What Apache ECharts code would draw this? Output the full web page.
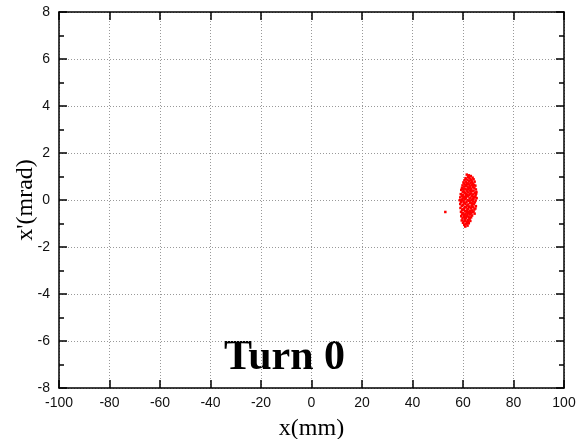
<!DOCTYPE html>
<html><head><meta charset="utf-8">
<script src="https://cdn.jsdelivr.net/npm/echarts@6/dist/echarts.min.js"></script>
<style>html,body{margin:0;padding:0;background:#fff}#c{width:577px;height:439px}</style>
</head><body><div id="c"></div>
<script>
var xTicks = [-100,-80,-60,-40,-20,0,20,40,60,80,100];
var yTicks = [-8,-6,-4,-2,0,2,4,6,8];
var xTitle = 'x(mm)';
var yTitle = "x'(mrad)";
var label = 'Turn 0';
// particle coordinates [x (mm), x' (mrad)]
var particles = [
[61.5,1.08],[62.3,1.05],[63.1,1.02],[62.0,0.98],[63.8,0.95],[61.0,0.93],[62.7,0.91],[64.2,0.88],[61.8,0.86],[60.6,0.84],[63.4,0.83],[62.4,0.80],[64.6,0.78],[61.3,0.77],[60.2,0.75],[63.0,0.73],[62.0,0.71],[64.0,0.70],[61.6,0.68],[60.8,0.66],[63.6,0.65],[62.6,0.63],[59.8,0.62],[64.9,0.61],[61.1,0.60],
[62.9,0.58],[60.4,0.57],[63.9,0.55],[61.9,0.54],[59.6,0.52],[64.5,0.51],[62.3,0.50],[60.9,0.48],[63.3,0.47],[65.1,0.45],[61.4,0.44],[59.3,0.43],[62.7,0.41],[64.2,0.40],[60.2,0.39],[63.7,0.37],[61.7,0.36],[65.3,0.34],[59.9,0.33],[62.1,0.32],[64.7,0.30],[60.7,0.29],[63.1,0.28],[61.2,0.26],[59.1,0.25],[64.0,0.24],[62.5,0.22],[60.0,0.21],[65.0,0.20],[61.6,0.19],
[63.5,0.18],[59.5,0.17],[62.0,0.15],[64.4,0.14],[60.5,0.13],[58.9,0.11],[63.0,0.10],[61.1,0.09],[65.4,0.08],[62.6,0.06],[59.8,0.05],[64.1,0.04],[60.9,0.03],[63.6,0.01],[61.8,0.00],[58.7,-0.01],[65.0,-0.02],[62.3,-0.04],[60.2,-0.05],[63.9,-0.06],[61.4,-0.08],[59.3,-0.09],[64.7,-0.10],[62.8,-0.12],[60.6,-0.13],[63.3,-0.14],[61.0,-0.16],[58.9,-0.17],[64.3,-0.18],[62.1,-0.19],
[60.0,-0.21],[63.7,-0.22],[61.6,-0.24],[59.5,-0.25],[65.1,-0.26],[62.5,-0.28],[60.7,-0.29],[64.0,-0.31],[61.2,-0.32],[59.0,-0.34],[63.1,-0.35],[62.0,-0.37],[60.3,-0.38],[64.5,-0.40],[61.8,-0.41],[59.7,-0.43],[63.5,-0.44],[62.7,-0.46],[60.9,-0.47],[64.2,-0.49],[59.2,-0.50],[61.4,-0.52],[63.0,-0.53],[60.1,-0.55],[62.3,-0.56],[64.6,-0.58],[61.0,-0.59],
[59.6,-0.61],[62.8,-0.62],[60.6,-0.64],[63.6,-0.66],[61.7,-0.67],[59.3,-0.69],[62.2,-0.71],[60.3,-0.73],[63.2,-0.74],[61.2,-0.76],[59.8,-0.78],[62.6,-0.80],[60.8,-0.82],[61.9,-0.85],[59.5,-0.87],[62.9,-0.89],[60.4,-0.91],[61.5,-0.94],[60.0,-0.97],[62.3,-0.99],[61.0,-1.02],[60.5,-1.06],[61.8,-1.09],[60.9,-1.13],
[62.4,0.96],[61.2,0.89],[63.5,0.76],[62.2,0.67],[60.3,0.70],[64.4,0.64],[61.9,0.45],[63.0,0.38],[60.6,0.35],[62.9,0.27],[64.8,0.12],[61.5,0.22],[60.1,0.07],[62.9,-0.03],[61.1,0.16],[63.8,-0.15],[60.4,-0.11],[62.4,-0.30],[64.9,-0.36],[61.5,-0.45],[63.8,-0.51],[60.5,-0.63],[62.0,-0.52],[61.3,-0.70],[62.0,-0.92],[63.3,-0.57],[59.9,-0.40],[59.6,0.00],[65.2,0.27],[63.2,0.86],[62.8,0.53],[61.4,0.61],[60.0,0.48],[64.1,0.09],[59.2,-0.07],[63.4,-0.26],[61.8,-0.60],[60.9,-0.88],[61.6,-1.0],[62.5,-0.75],
[53.0,-0.51]
];

var chart = echarts.init(document.getElementById('c'), null, {renderer:'canvas'});
var axisLine = {show:true, onZero:false, lineStyle:{color:'#000', width:1.5}};
var split = {show:true, lineStyle:{color:'#999', type:[1,2], width:1}};
var lblFont = {fontFamily:'Liberation Sans, Arial, sans-serif', fontSize:14, color:'#111'};
chart.setOption({
  animation:false,
  grid:{left:59, right:13, top:12, bottom:51, containLabel:false, outerBoundsMode:'none'},
  xAxis:[{
    type:'value', min:xTicks[0], max:xTicks[xTicks.length-1], interval:20, position:'bottom',
    name:xTitle, nameLocation:'middle', nameGap:29, nameMoveOverlap:false,
    nameTextStyle:{fontFamily:'Liberation Serif, Times New Roman, serif', fontSize:24, color:'#000'},
    axisLine:axisLine, axisTick:{show:true, inside:true, length:8, lineStyle:{color:'#000', width:1.5}},
    axisLabel:Object.assign({margin:8}, lblFont), splitLine:split
  },{
    type:'value', min:xTicks[0], max:xTicks[xTicks.length-1], interval:20, position:'top',
    axisLine:axisLine, axisTick:{show:true, inside:true, length:8, lineStyle:{color:'#000', width:1.5}},
    axisLabel:{show:false}, splitLine:{show:false}
  }],
  yAxis:[{
    type:'value', min:yTicks[0], max:yTicks[yTicks.length-1], interval:2, position:'left',
    name:yTitle, nameLocation:'middle', nameGap:21, nameRotate:90, nameMoveOverlap:false,
    nameTextStyle:{fontFamily:'Liberation Serif, Times New Roman, serif', fontSize:24, color:'#000'},
    axisLine:axisLine, axisTick:{show:true, inside:true, length:8, lineStyle:{color:'#000', width:1.5}},
    minorTick:{show:true, splitNumber:2, length:5, lineStyle:{color:'#000', width:1.5}},
    axisLabel:Object.assign({margin:9}, lblFont), splitLine:split
  },{
    type:'value', min:yTicks[0], max:yTicks[yTicks.length-1], interval:2, position:'right',
    axisLine:axisLine, axisTick:{show:true, inside:true, length:8, lineStyle:{color:'#000', width:1.5}},
    minorTick:{show:true, splitNumber:2, length:5, lineStyle:{color:'#000', width:1.5}},
    axisLabel:{show:false}, splitLine:{show:false}
  }],
  series:[{
    type:'scatter', xAxisIndex:0, yAxisIndex:0, data:particles,
    symbol:'rect', symbolSize:2.5, itemStyle:{color:'#ff0000', opacity:1}
  }],
  graphic:[{
    type:'text', left:224, top:337,
    style:{text:label, font:'bold 42px "Liberation Serif", "Times New Roman", serif', fill:'#000'}
  }]
});
</script></body></html>
